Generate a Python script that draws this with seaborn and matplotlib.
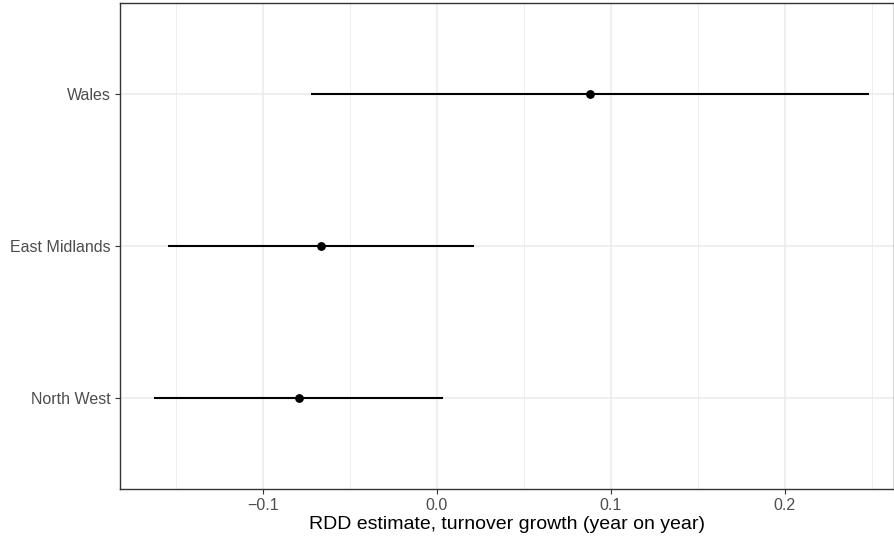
import matplotlib
matplotlib.use("Agg")
import matplotlib.pyplot as plt
import seaborn as sns
import pandas as pd
import numpy as np

# Regional RDD estimates with confidence intervals
regions = ["North West", "East Midlands", "Wales"]
estimate = [-0.079, -0.0665, 0.0879]
ci_low = [-0.1625, -0.1543, -0.0722]
ci_high = [0.0036, 0.0214, 0.2483]

df = pd.DataFrame({"region": regions, "estimate": estimate,
                   "lo": ci_low, "hi": ci_high})
df["pos"] = np.arange(1, len(regions) + 1)

sns.set_theme(style="white")
plt.rcParams["font.family"] = ["Liberation Sans", "DejaVu Sans"]

fig = plt.figure(figsize=(8.94, 5.41), dpi=100)
ax = fig.add_axes([120 / 894, 52 / 541, 774 / 894, 486 / 541])

# grid lines (major and minor)
grid_col = "#EBEBEB"
for x in [-0.15, -0.05, 0.05, 0.15, 0.25]:
    ax.axvline(x, color=grid_col, lw=0.6, zorder=0)
for x in [-0.1, 0.0, 0.1, 0.2]:
    ax.axvline(x, color=grid_col, lw=1.1, zorder=0)
for y in df["pos"]:
    ax.axhline(y, color=grid_col, lw=1.1, zorder=0)

ax.hlines(df["pos"], df["lo"], df["hi"], color="black", lw=1.5, zorder=2)
sns.scatterplot(data=df, x="estimate", y="pos", color="black", s=40,
                edgecolor="black", linewidth=0, ax=ax, zorder=3)

ax.set_xlim(-0.182, 0.2628)
ax.set_ylim(0.4, 3.6)
ax.set_xticks([-0.1, 0.0, 0.1, 0.2])
ax.set_xticklabels(["\u22120.1", "0.0", "0.1", "0.2"])
ax.set_yticks(df["pos"])
ax.set_yticklabels(df["region"])
ax.set_xlabel("RDD estimate, turnover growth (year on year)", fontsize=14,
              color="black", labelpad=2)
ax.set_ylabel("")

ax.tick_params(axis="both", which="major", length=3.5, width=0.8,
               color="#333333", labelcolor="#4D4D4D", labelsize=11.5, pad=3,
               bottom=True, left=True)
for s in ax.spines.values():
    s.set_color("#333333")
    s.set_linewidth(1.0)
    s.set_visible(True)

fig.savefig("out.png", dpi=100)
